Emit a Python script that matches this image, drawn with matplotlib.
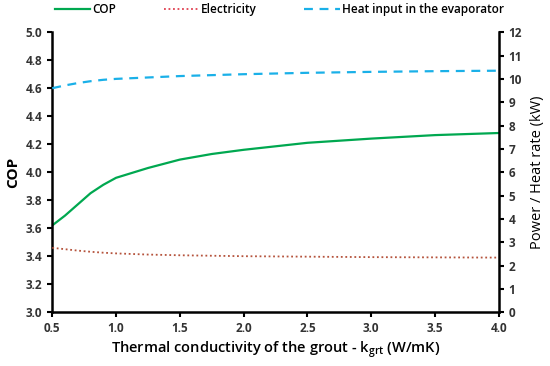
import matplotlib
matplotlib.use("Agg")
import matplotlib.pyplot as plt
import numpy as np

k = [0.5, 0.6, 0.7, 0.8, 0.9, 1.0, 1.25, 1.5, 1.75, 2.0, 2.5, 3.0, 3.5, 4.0]
cop = [3.62, 3.69, 3.77, 3.85, 3.91, 3.96, 4.03, 4.09, 4.13, 4.16, 4.21, 4.24, 4.265, 4.28]
electricity = [2.76, 2.70, 2.64, 2.59, 2.55, 2.52, 2.47, 2.44, 2.42, 2.40, 2.38, 2.36, 2.35, 2.34]
heat_input = [9.60, 9.72, 9.82, 9.90, 9.96, 10.00, 10.06, 10.12, 10.16, 10.20, 10.26, 10.30, 10.33, 10.35]

plt.rcParams['font.family'] = ['Open Sans', 'DejaVu Sans']

fig = plt.figure(figsize=(5.5, 3.66), dpi=100)
ax = fig.add_axes([0.095, 0.147, 0.812, 0.765])
ax2 = ax.twinx()

l1, = ax.plot(k, cop, color='#00a850', lw=1.6, label='COP')
l2, = ax2.plot(k, electricity, color='#b5533c', lw=1.3, ls=(0, (1, 1.5)), label='Electricity')
l3, = ax2.plot(k, heat_input, color='#1ab0e8', lw=1.6, ls=(0, (4, 3)), label='Heat input in the evaporator')
l2_leg = matplotlib.lines.Line2D([], [], color='#e04050', lw=1.3, ls=(0, (1, 1.5)), label='Electricity')

ax.set_xlim(0.5, 4.0)
ax.set_ylim(3.0, 5.0)
ax2.set_ylim(0, 12)
ax.set_xticks(np.arange(0.5, 4.01, 0.5))
ax.set_yticks(np.arange(3.0, 5.01, 0.2))
ax2.set_yticks(range(0, 13))
ax.xaxis.set_major_formatter(matplotlib.ticker.FormatStrFormatter('%.1f'))
ax.yaxis.set_major_formatter(matplotlib.ticker.FormatStrFormatter('%.1f'))

for a in (ax, ax2):
    for s in a.spines.values():
        s.set_linewidth(1.8)
    a.spines['top'].set_visible(False)
ax.spines['right'].set_visible(False)
ax2.spines['left'].set_visible(False)
ax2.spines['bottom'].set_visible(False)

ax.tick_params(axis='both', direction='out', length=3.5, width=1.5, labelsize=8.5)
ax2.tick_params(axis='y', direction='out', length=3.5, width=1.5, labelsize=8.5)
for lab in ax.get_xticklabels() + ax.get_yticklabels() + ax2.get_yticklabels():
    lab.set_fontweight('bold')
    lab.set_color('#333333')

ax.set_ylabel('COP', fontsize=11, fontweight='bold', labelpad=4)
ax2.set_ylabel('Power / Heat rate (kW)', fontsize=10.5, labelpad=6)
ax.set_xlabel('Thermal conductivity of the grout - k$_{\\mathregular{grt}}$ (W/mK)', fontsize=10.5,
              fontweight='semibold', labelpad=3)

fig.legend(handles=[l1, l2_leg, l3], loc='upper left', bbox_to_anchor=(0.08, 1.02), ncol=3,
           frameon=False, prop={'size': 8.5, 'weight': 'semibold'}, handlelength=3,
           columnspacing=4.0, handletextpad=0.2)

fig.savefig('out.png', dpi=100)
